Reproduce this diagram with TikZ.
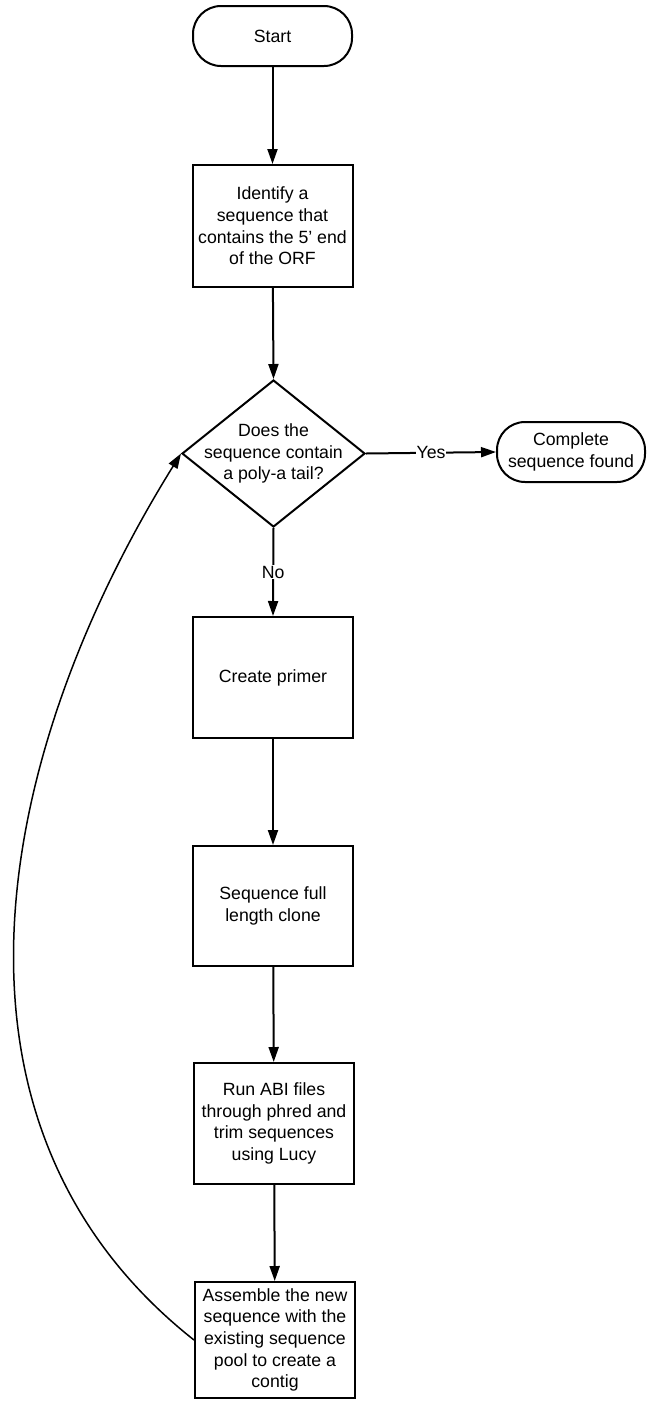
\documentclass[tikz,border=0pt]{standalone}
\usepackage{fontspec}
\setmainfont{Liberation Sans}
\usetikzlibrary{shapes.geometric,arrows.meta}
\begin{document}
\begin{tikzpicture}[x=1pt,y=-1pt,
  every node/.style={font=\fontsize{17.7}{21.6}\selectfont},
  procbox/.style={draw, line width=2pt, minimum width=160pt, align=center, inner sep=2pt},
  term/.style={draw, line width=2pt, rounded corners=28pt, align=center, inner sep=2pt},
  flow/.style={line width=2pt, -{Triangle[length=15pt,width=10pt]}},
  loopline/.style={line width=1.5pt, -{Triangle[length=15pt,width=10pt]}},
  lbl/.style={fill=white, inner sep=1pt}
]
\useasboundingbox (0,0) rectangle (647,1401);

\node[term, minimum width=159pt, minimum height=60pt] (start) at (272.5,36) {Start};
\node[procbox, minimum height=122pt] (ident) at (272.5,226) {Identify a\\sequence that\\contains the 5' end\\of the ORF};
\node[diamond, draw, line width=2pt, minimum width=183pt, minimum height=147pt, inner sep=0pt] (dec) at (273.5,453.5) {};
\node[align=center] (dectext) at (dec) {Does the\\sequence contain\\a poly-a tail?};
\node[term, minimum width=148pt, minimum height=60pt] (done) at (571,452) {Complete\\sequence found};
\node[procbox, minimum height=121pt] (primer) at (273,677.5) {Create primer};
\node[procbox, minimum height=120pt] (full) at (273,906) {Sequence full\\length clone};
\node[procbox, minimum height=121pt] (abi) at (274,1123.5) {Run ABI files\\through phred and\\trim sequences\\using Lucy};
\node[procbox, minimum height=116pt] (asm) at (275,1340) {Assemble the new\\sequence with the\\existing sequence\\pool to create a\\contig};

\draw[flow] (start) -- (ident);
\draw[flow] (ident) -- (dec.north);
\draw[flow] (dec.east) -- node[lbl] (yes) {Yes} (done.west);
\draw[flow] (dec.south) -- node[lbl] (no) {No} (primer.north);
\draw[flow] (primer) -- (full);
\draw[flow] (full) -- (abi);
\draw[flow] (abi) -- (asm);
\draw[loopline] (asm.west) .. controls (-78,1125) and (-7,756) .. (dec.west);
\end{tikzpicture}
\end{document}
